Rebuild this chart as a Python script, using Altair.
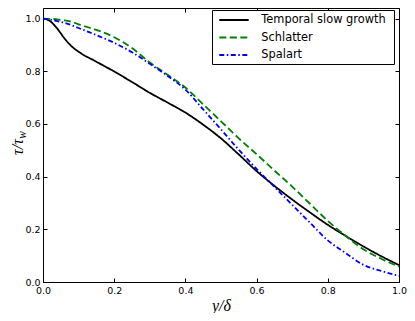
import altair as alt
import pandas as pd

x_vals = [0.0, 0.02, 0.04, 0.06, 0.08, 0.1, 0.15, 0.2, 0.25, 0.3, 0.35, 0.4,
          0.45, 0.5, 0.55, 0.6, 0.65, 0.7, 0.75, 0.8, 0.85, 0.9, 0.95, 1.0]
temporal = [1.0, 0.99, 0.962, 0.925, 0.895, 0.874, 0.836, 0.799, 0.759, 0.718, 0.681, 0.643,
            0.597, 0.545, 0.484, 0.421, 0.365, 0.313, 0.264, 0.217, 0.175, 0.135, 0.098, 0.064]
schlatter = [1.0, 0.999, 0.997, 0.993, 0.988, 0.978, 0.957, 0.929, 0.888, 0.833, 0.787, 0.738,
             0.674, 0.61, 0.545, 0.485, 0.423, 0.362, 0.297, 0.232, 0.175, 0.124, 0.088, 0.058]
spalart = [1.0, 0.996, 0.99, 0.984, 0.975, 0.964, 0.937, 0.908, 0.872, 0.828, 0.782, 0.73,
           0.655, 0.579, 0.502, 0.429, 0.361, 0.293, 0.225, 0.158, 0.11, 0.065, 0.042, 0.023]

series_names = ["Temporal slow growth", "Schlatter", "Spalart"]
series_colors = ["#000000", "#008000", "#0000ff"]
series_dashes = [[1, 0], [7, 3.5], [5, 2.5, 1.5, 2.5]]
tick_values = [0.0, 0.2, 0.4, 0.6, 0.8, 1.0]

rows = []
for name, ys in zip(series_names, [temporal, schlatter, spalart]):
    for i, (x, y) in enumerate(zip(x_vals, ys)):
        rows.append({"x": x, "y": y, "series": name, "order": i})
df = pd.DataFrame(rows)

W, H = 356, 274
xscale = alt.Scale(domain=[0, 1], nice=False, zero=False)
yscale = alt.Scale(domain=[0, 1.04], nice=False, zero=False)

common = dict(grid=False, domain=False, tickSize=4, tickColor="black", tickWidth=1,
              offset=-4, values=tick_values)
lab = dict(format=".1f", labelFont="DejaVu Sans", labelFontSize=9.5, labelColor="black",
           labelPadding=3, labelFlush=False, labelOverlap=False)

lines = alt.Chart(df).mark_line(strokeWidth=1.8, interpolate="monotone").encode(
    x=alt.X("x:Q", scale=xscale,
            axis=alt.Axis(orient="bottom", title="y/δ", titleFont="Liberation Serif",
                          titleFontStyle="italic", titleFontWeight="normal", titleFontSize=16,
                          titleColor="black", titleY=27, titleBaseline="middle",
                          **lab, **common)),
    y=alt.Y("y:Q", scale=yscale,
            axis=alt.Axis(orient="left", title=None, **lab, **common)),
    color=alt.Color("series:N", scale=alt.Scale(domain=series_names, range=series_colors),
                    legend=None),
    strokeDash=alt.StrokeDash("series:N", scale=alt.Scale(domain=series_names, range=series_dashes),
                              legend=None),
    order="order:Q",
)

frame = alt.Chart(df).mark_point(opacity=0).encode(
    x=alt.X("x:Q", scale=xscale, axis=alt.Axis(orient="top", labels=False, title=None, **common)),
    y=alt.Y("y:Q", scale=yscale, axis=alt.Axis(orient="right", labels=False, title=None, **common)),
)

one = pd.DataFrame({"t": [""]})

ylab = alt.Chart(pd.DataFrame({"t": ["τ/τ"]})).mark_text(
    angle=270, align="center", baseline="alphabetic", font="Liberation Serif",
    fontStyle="italic", fontSize=16, color="black"
).encode(text="t:N", x=alt.value(-20), y=alt.value(139))

ysub = alt.Chart(pd.DataFrame({"t": ["w"]})).mark_text(
    angle=270, align="center", baseline="alphabetic", font="Liberation Serif",
    fontStyle="italic", fontSize=11.5, color="black"
).encode(text="t:N", x=alt.value(-17.5), y=alt.value(127))

# legend (drawn as annotation)
legend_box = alt.Chart(one).mark_rect(fill="white", stroke="black", strokeWidth=1).encode(
    x=alt.value(169.5), x2=alt.value(351.5), y=alt.value(2.5), y2=alt.value(56.5)
)
legend_rows_y = [12, 29.5, 47]
legend_layers = [legend_box]
for name, col, dash, ry in zip(series_names, series_colors, series_dashes, legend_rows_y):
    legend_layers.append(
        alt.Chart(one).mark_rule(color=col, strokeDash=dash, strokeWidth=2).encode(
            x=alt.value(176.3), x2=alt.value(205.7), y=alt.value(ry)
        )
    )
    legend_layers.append(
        alt.Chart(pd.DataFrame({"t": [name]})).mark_text(
            align="left", baseline="middle", font="DejaVu Sans", fontSize=11.4, color="black"
        ).encode(text="t:N", x=alt.value(218.3), y=alt.value(ry))
    )

chart = alt.layer(lines, frame, ylab, ysub, *legend_layers).resolve_axis(
    x="independent", y="independent"
).properties(
    width=W, height=H,
    autosize=alt.AutoSizeParams(type="none"),
    padding={"left": 35, "top": 0, "right": 8, "bottom": 31},
).configure_view(
    stroke="black", strokeWidth=1
)

chart.save("out.html", embed_options={"renderer": "svg", "actions": False})
